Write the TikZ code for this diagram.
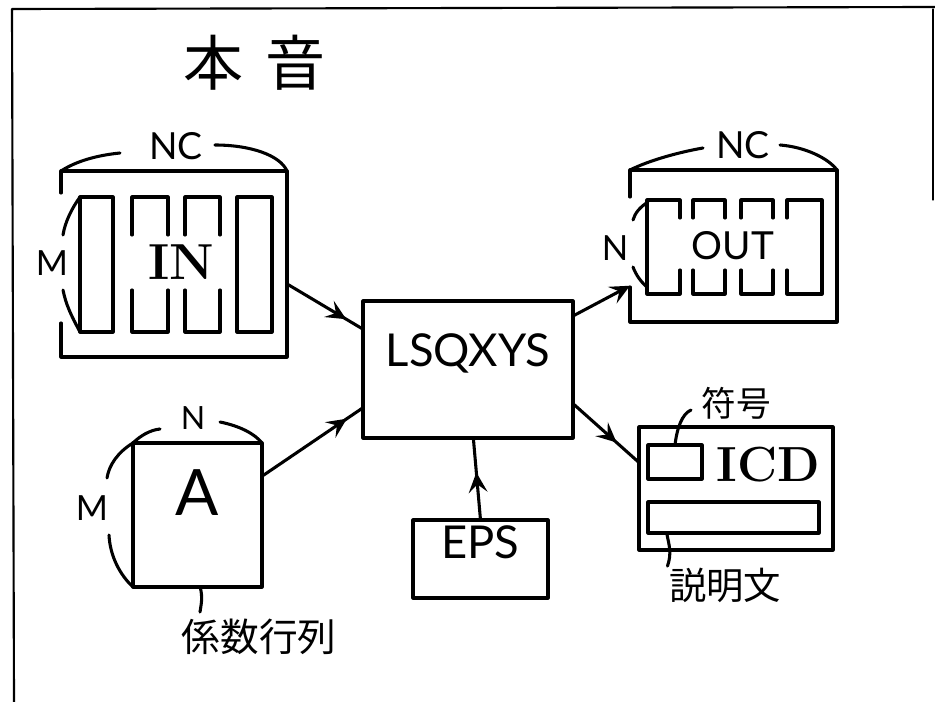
\documentclass[tikz,border=0pt]{standalone}
\usepackage{fontspec}
\setsansfont{Lato}
\newfontfamily\jp{Noto Sans CJK JP}
\usetikzlibrary{arrows.meta,decorations.markings,fit}
\begin{document}
\begin{tikzpicture}[x=0.75pt,y=-0.75pt, line width=2.3pt, line cap=round, line join=round,
  box/.style={draw, inner sep=0pt, outer sep=0pt},
  hold/.style={inner sep=0pt, outer sep=0pt},
  lbl/.style={inner sep=0pt, font=\sffamily\fontsize{#1}{#1}\selectfont},
  jlbl/.style={inner sep=0pt, font=\jp\fontsize{#1}{#1}\selectfont},
  endtip/.style={-{Stealth[length=15pt,width=14pt,inset=6pt]}},
  midtip/.style={decoration={markings,mark=at position #1 with {\arrow{Stealth[length=15pt,width=14pt,inset=6pt]}}},postaction={decorate}},
]
\useasboundingbox (0,0) rectangle (935,702);
% frame
\draw[line width=1.6pt] (935,7) -- (12,9) -- (14,702);
\draw[line width=0.8pt] (933,9) -- (933,200);

% title
\node[jlbl=45] (t1) at (213,63) {本};
\node[jlbl=45] (t2) at (295,63) {音};

% ---------- IN ----------
\node[hold, fit={(61,171) (287,357)}] (inbox) {};
\draw ([yshift=-16.5pt]inbox.north west) -- (inbox.north west) -- (inbox.north east)
      -- (inbox.south east) -- (inbox.south west) -- ([yshift=25.5pt]inbox.south west);
\node[box, fit={(80,197) (113,332)}] (in1) {};
\draw (132,235) |- (168,197) -- (168,235);
\draw (132,290) |- (168,332) -- (168,290);
\draw (185,235) |- (220,197) -- (220,235);
\draw (185,290) |- (220,332) -- (220,290);
\node[box, fit={(237,197) (272,332)}] (in4) {};
\node[inner sep=0pt, font=\bfseries\fontsize{38}{38}\selectfont] (intext) at (181,262) {IN};
\node[lbl=28] (innc) at (176,146) {NC};
\draw (inbox.north west) .. controls (78,160) and (100,155) .. (120,153);
\draw (215,145) .. controls (250,145) and (280,155) .. (inbox.north east);
\node[lbl=26] (inm) at (52,263) {M};
\draw (in1.north west) .. controls (72,208) and (65,222) .. (63,235);
\draw (63,290) .. controls (66,305) and (71,315) .. (in1.south west);

% ---------- LSQXYS ----------
\node[box, fit={(363,301) (573,438)}, font=\sffamily\fontsize{34}{34}\selectfont] (lsq) {LSQXYS};

% ---------- A ----------
\node[box, fit={(133,443) (262,587)}, font=\sffamily\fontsize{48}{48}\selectfont] (amat) {A};
\node[lbl=24] (an) at (193,418) {N};
\draw (amat.north west) .. controls (140,436) and (150,430) .. (160,429);
\draw (220,422) .. controls (240,426) and (255,434) .. (amat.north east);
\node[lbl=26] (am) at (92,508) {M};
\draw (amat.north west) .. controls (118,452) and (109,465) .. (107,478);
\draw (109,535) .. controls (110,556) and (120,575) .. (amat.south west);
\node[jlbl=29] (coeff) at (259,637) {係数行列};
\coordinate (aleader) at (200,612);
\draw ([xshift=2pt]amat.south) .. controls (203,598) and (201,605) .. (aleader);

% ---------- EPS ----------
\node[box, fit={(413,520) (548,598)}, font=\sffamily\fontsize{34}{34}\selectfont] (eps) {EPS};

% ---------- OUT ----------
\node[hold, fit={(630,170) (837,322)}] (outbox) {};
\draw ([yshift=-20.25pt]outbox.north west) -- (outbox.north west) -- (outbox.north east)
      -- (outbox.south east) -- (outbox.south west) -- ([yshift=26.25pt]outbox.south west);
\draw (680,218) |- (647,200) -- (647,294) -| (680,270);
\draw (693,218) |- (725,200) -- (725,218);
\draw (693,270) |- (725,294) -- (725,270);
\draw (741,218) |- (773,200) -- (773,218);
\draw (741,270) |- (773,294) -- (773,270);
\draw (787,218) |- (822,200) -- (822,294) -| (787,270);
\node[lbl=29] (outtext) at (733,246) {OUT};
\node[lbl=28] (outnc) at (743,145) {NC};
\draw (outbox.north west) .. controls (650,160) and (680,152) .. (703,148);
\draw (780,145) .. controls (805,147) and (828,158) .. (outbox.north east);
\node[lbl=26] (outn) at (615,248) {N};
\draw (648,202) .. controls (640,207) and (635,213) .. (633,220);
\draw (633,267) .. controls (636,275) and (641,282) .. (647,287);

% ---------- ICD ----------
\node[box, fit={(639,427) (833,550)}] (icd) {};
\node[box, fit={(648,445) (702,479)}] (sym) {};
\node[box, fit={(648,502) (819,533)}] (desc) {};
\node[inner sep=0pt, font=\bfseries\fontsize{37}{37}\selectfont] (icdtext) at (768,465) {ICD};
\node[jlbl=26] (symlbl) at (736,403) {符号};
\coordinate (symend) at (691,410);
\draw (sym.north) .. controls (677,428) and (682,414) .. (symend);
\node[jlbl=28] (desclbl) at (725,585) {説明文};
\draw ([xshift=14pt]desc.south west) .. controls (669,545) and (672,553) .. (desclbl.north west);

% ---------- connectors ----------
\draw[midtip=0.78] (inbox.-10.5) -- (lsq.159);
\draw[midtip=0.84] (amat.31) -- (lsq.200);
\draw[midtip=0.58] (eps.north) -- ([xshift=4pt]lsq.south);
\draw[endtip] (lsq.27) -- (outbox.201.6);
\draw[midtip=0.66] (lsq.-18.7) -- (icd.165.3);
\end{tikzpicture}
\end{document}
